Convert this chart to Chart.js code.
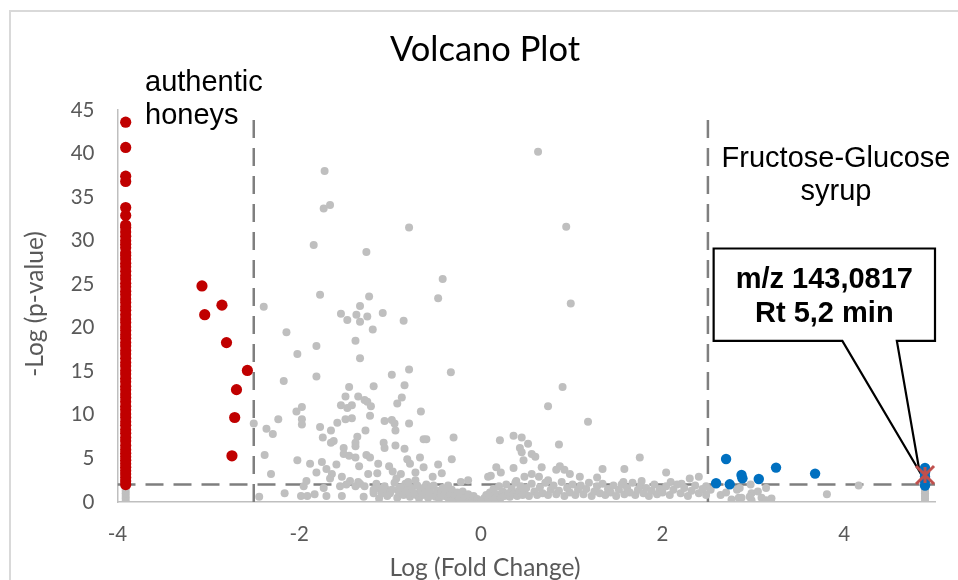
<!DOCTYPE html>
<html><head><meta charset="utf-8">
<script src="https://cdn.jsdelivr.net/npm/chart.js@4.4.0/dist/chart.umd.min.js"></script>
<style>
html,body{margin:0;padding:0;background:#fff;overflow:hidden}
#wrap{position:relative;width:958px;height:580px;overflow:hidden}
#frame{position:absolute;left:9px;top:10px;width:1200px;height:1200px;border-left:2px solid #d9d9d9;border-top:2px solid #d9d9d9}
canvas{position:absolute;left:0;top:0}
</style></head><body>
<div id="wrap"><div id="frame"></div><canvas id="c" width="958" height="580"></canvas></div>
<script>
// ---- tick values / labels ----
const xTicks = [-4, -2, 0, 2, 4];
const xTickLabels = ['-4', '-2', '0', '2', '4'];
const yTicks = [0, 5, 10, 15, 20, 25, 30, 35, 40, 45];
const yTickLabels = ['0', '5', '10', '15', '20', '25', '30', '35', '40', '45'];

// ---- thresholds ----
const foldThresholds = [-2.5, 2.5];
const pThreshold = 2;

// ---- authentic honeys (red) ----
const redColumnX = -3.91;
const redColumnY = [2.0,2.4,2.8,3.2,3.6,4.0,4.4,4.8,5.2,5.6,6.0,6.5,7.0,7.4,7.9,8.3,8.8,9.2,9.7,10.1,10.6,11.0,11.5,12.0,12.4,12.9,13.3,13.8,14.2,14.7,15.1,15.6,16.0,16.5,17.0,17.4,17.9,18.3,18.8,19.2,19.7,20.1,20.6,21.0,21.5,22.0,22.4,22.9,23.3,23.8,24.2,24.7,25.1,25.6,26.0,26.5,27.0,27.4,27.9,28.3,28.6,29.2,29.6,30.0,30.5,31.0,31.5,31.8,32.9,33.8,36.8,37.4,40.7,43.6];
const redScatter = [[-3.07,24.8],[-2.85,22.6],[-3.04,21.5],[-2.80,18.3],[-2.57,15.1],[-2.69,12.9],[-2.71,9.7],[-2.74,5.3]];

// ---- fructose-glucose syrup (blue) ----
const blueColumnX = 4.89;
const blueColumnY = [1.9,2.4,2.9,3.4,3.9];
const blueScatter = [[2.70,4.94],[2.59,2.15],[2.74,2.03],[2.87,3.1],[2.88,2.72],[3.06,2.64],[3.25,3.95],[3.68,3.26]];

// ---- highlighted feature ----
const markerPoint = [4.89, 3.1];

// ---- non-significant / other features (gray) ----
const grayColumnLeftY = [0.1,0.4,0.7,1.0,1.3,1.6];
const grayColumnRightY = [0.1,0.4,0.7,1.0,1.3,1.6];
const grayLeft = [[-1.72,38.0],[-1.73,33.7],[-1.66,34.1],[-0.79,31.5],[-1.84,29.5],[-1.26,28.7],[-0.42,25.6],[-0.47,23.4],[-1.77,23.8],[-1.23,23.6],[-2.39,22.4],[-1.33,22.5],[-1.54,21.6],[-1.37,21.5],[-1.25,21.3],[-1.08,21.7],[-1.47,20.9],[-1.33,20.7],[-0.85,20.8],[-1.19,19.8],[-2.14,19.5],
[-1.38,18.5],[-1.81,17.9],[-2.02,17.0],[-1.33,16.5],[-0.79,15.2],[-0.33,14.9],[-0.98,14.6],[-1.81,14.4],[-2.17,13.9],[-0.84,13.4],[-1.18,13.3],[-1.45,13.2],[-1.35,12.1],[-0.87,12.0],[-1.28,11.7],[-1.49,12.1],[-1.25,11.5],[-0.92,11.3],[-1.21,11.0],[-1.54,11.1],[-1.47,10.8],[-1.42,11.1],[-1.97,10.9],[-2.03,10.4],[-0.66,10.4],[-1.22,9.9],[-1.97,9.5],[-2.23,9.5],[-1.97,8.9],[-2.50,9.0],[-1.49,9.5],[-1.42,9.6],[-1.06,9.3],[-0.98,9.4],[-0.95,9.0],[-0.79,9.0],[-1.58,9.1],[-1.77,8.6],[-2.36,8.4],[-2.29,7.8],[-1.65,8.2],[-1.27,8.2],[-0.94,8.2],[-1.74,7.4],[-1.36,7.5],[-1.62,7.0],[-1.65,6.8],[-1.38,6.8],[-0.63,7.2],[-0.60,7.2],[-0.30,7.4],[-1.07,6.8],[-1.06,6.2],[-0.94,6.5],[-0.84,6.1],[-1.51,6.2],[-1.38,6.4],[-2.38,5.4],[-1.51,5.5],[-1.45,5.3],[-1.38,5.1],[-1.26,5.4],[-1.22,5.1],[-2.02,4.8],[-1.88,4.4],[-1.75,4.6],[-1.59,4.3],[-1.13,4.4],[-0.81,4.9],[-0.67,5.1],[-0.32,4.9],[-0.47,4.3],[-1.01,4.1],[-1.34,4.1],[-0.78,4.4],[-0.63,4.0],[-1.70,3.8],[-2.31,3.2],[-1.81,3.4],[-1.64,3.2],[-1.53,2.9],[-1.24,3.2],[-1.14,3.3],[-0.97,3.5],[-0.88,3.2],[-0.72,3.4],[-0.53,2.9],[-0.43,3.3],[-1.66,2.7],[-1.92,2.4],[-1.44,2.4],[-1.35,2.3],[-0.93,2.7],[-0.72,2.5],[-0.22,2.3],[-0.14,2.5],[0.08,2.9],[-0.36,1.9],[-1.95,1.8],[-1.73,1.6],[-1.55,1.8],[-1.48,2.0],[-1.38,1.8],[-1.15,2.1],[-1.06,1.8],[-0.83,2.1],[-0.60,2.0],[-2.44,0.6],[-2.16,1.0],[-1.98,0.7],[-1.91,0.7],[-1.83,0.9],[-1.70,0.7],[-1.53,0.7],[-1.29,0.6],[-1.18,1.0],[-1.00,1.0],[-0.85,1.0],[-0.71,0.8],
[-1.33,2.1],[-1.28,1.8],[-1.18,1.4],[-1.13,1.6],[-1.09,1.0],[-1.04,1.4],[-1.00,1.2],[-0.91,1.4],[-0.78,1.6],[-0.74,1.0],[-0.67,1.2]];
const grayRight = [[0.63,40.2],[0.94,31.6],[0.99,22.8],[0.90,13.2],[0.74,11.0],[1.18,9.2],[0.21,7.1],[0.36,7.6],[0.45,7.4],[0.52,6.7],[0.86,6.6],[0.43,6.2],[0.45,5.7],[0.56,5.5],[0.60,5.2],[0.47,4.8],[0.17,4.0],[0.36,3.9],[0.67,4.0],[0.87,4.1],[0.22,3.4],[0.11,3.0],[0.48,2.9],[0.56,3.2],[0.64,2.9],[0.83,3.7],[0.92,3.7],[0.98,3.2],[1.34,3.8],[1.28,2.8],[1.75,5.1],[1.58,3.8],[2.04,3.4],[2.09,2.3],[2.21,2.1],[2.30,2.7],[2.40,2.9],[2.48,1.8],[0.39,2.4],[0.74,2.5],[1.09,2.9],[1.57,2.3],[1.77,2.4],
[3.81,0.9],[4.16,1.9],[2.97,2.0],[3.14,1.6],[2.82,1.4],[2.84,0.5],[2.87,0.5],[2.98,1.0],[2.98,0.2],[3.09,0.5],[3.14,0.2],[2.53,1.4],[2.64,0.8],[2.70,1.1],[2.76,0.3],[3.05,1.2],[3.20,0.4],[2.85,1.6],[2.96,0.6]];
const grayBand = [[-1.18,1.2],[-1.12,0.4],[-1.08,1.5],[-1.03,0.7],[-0.98,1.4],[-0.95,2.2],[-0.92,0.5],[-0.90,1.1],
[-0.88,1.7],[-0.85,0.8],[-0.82,1.3],[-0.80,2.3],[-0.78,0.6],[-0.76,1.6],[-0.73,1.0],[-0.70,1.9],[-0.68,0.4],[-0.66,1.3],[-0.64,0.8],[-0.62,1.7],
[-0.60,1.1],[-0.58,0.5],[-0.56,1.5],[-0.54,0.9],[-0.52,1.9],[-0.50,0.6],[-0.48,1.3],[-0.46,0.4],[-0.44,1.0],[-0.42,1.6],[-0.40,0.7],[-0.38,1.2],[-0.36,0.5],[-0.34,0.9],[-0.32,1.4],[-0.30,0.3],
[-0.28,0.8],[-0.26,1.1],[-0.24,0.4],[-0.22,0.7],[-0.20,1.2],[-0.18,0.3],[-0.16,0.6],[-0.14,0.9],[-0.12,0.2],[-0.10,0.5],[-0.08,0.7],[-0.06,0.15],[-0.04,0.35],[-0.02,0.1],[0.00,0.05],
[0.02,0.2],[0.04,0.45],[0.06,0.8],[0.08,0.3],[0.10,1.1],[0.12,0.6],[0.14,1.5],[0.16,0.4],[0.18,0.9],[0.20,1.8],[0.22,0.5],[0.24,1.2],[0.26,0.7],[0.28,2.0],[0.30,1.0],[0.32,0.6],[0.34,1.5],[0.36,0.9],[0.38,2.2],[0.40,0.7],[0.42,1.3],[0.44,1.8],[0.46,0.8],[0.48,1.1],
[0.50,1.6],[0.53,0.7],[0.56,2.1],[0.59,1.2],[0.62,0.8],[0.65,1.7],[0.68,1.0],[0.71,2.2],[0.74,0.8],[0.77,1.4],[0.80,1.9],[0.83,0.9],[0.86,1.3],[0.89,2.3],[0.92,0.7],[0.95,1.6],[0.98,1.1],
[1.01,2.0],[1.04,0.8],[1.07,1.4],[1.10,1.9],[1.13,0.9],[1.16,1.5],[1.19,2.2],[1.22,0.7],[1.25,1.2],[1.28,1.8],[1.31,1.0],[1.34,2.1],[1.37,0.8],[1.40,1.5],[1.43,1.1],[1.46,1.9],[1.49,0.7],
[1.52,1.4],[1.55,2.0],[1.58,0.9],[1.61,1.6],[1.64,1.1],[1.67,2.2],[1.70,0.8],[1.73,1.4],[1.76,1.9],[1.79,1.0],[1.82,1.6],[1.85,0.7],[1.88,1.3],[1.91,2.0],[1.94,0.9],[1.97,1.5],
[2.00,1.1],[2.04,1.8],[2.08,0.8],[2.12,1.4],[2.16,2.0],[2.20,1.0],[2.24,1.6],[2.28,0.7],[2.32,1.3],[2.36,1.9],[2.40,1.0],[2.44,1.5],[2.48,0.8]];

// ---- texts ----
const titleText = 'Volcano Plot';
const xTitle = 'Log (Fold Change)';
const yTitle = '-Log (p-value)';
const leftLabel = ['authentic', 'honeys'];
const rightLabel = ['Fructose-Glucose', 'syrup'];
const calloutLines = ['m/z 143,0817', 'Rt 5,2 min'];

// ---- build datasets ----
const pts = a => a.map(p => ({x: p[0], y: p[1]}));
const col = (x, ys) => ys.map(y => ({x, y}));

function makeStar(){
  const c = document.createElement('canvas');
  c.width = 24; c.height = 24;
  const g = c.getContext('2d');
  g.strokeStyle = '#c0504d'; g.lineWidth = 3; g.lineCap = 'butt';
  g.beginPath();
  g.moveTo(3,3); g.lineTo(21,21);
  g.moveTo(21,3); g.lineTo(3,21);
  g.moveTo(12,4); g.lineTo(12,20);
  g.stroke();
  return c;
}

const lineStyle = {showLine: true, borderColor: '#7f7f7f', borderWidth: 2.5, borderDash: [18, 10], pointRadius: 0, fill: false, order: 5};
const datasets = [
  {label: 'marker', data: [{x: markerPoint[0], y: markerPoint[1]}], pointStyle: makeStar(), pointRadius: 10, order: 0},
  {label: 'syrup', data: pts(blueScatter).concat(col(blueColumnX, blueColumnY)), backgroundColor: '#0070c0', borderWidth: 0, pointRadius: 5.2, order: 1},
  {label: 'honey', data: pts(redScatter).concat(col(redColumnX, redColumnY)), backgroundColor: '#c00000', borderWidth: 0, pointRadius: 5.6, order: 2},
  {label: 'other', data: pts(grayLeft).concat(pts(grayRight), pts(grayBand), col(redColumnX, grayColumnLeftY), col(blueColumnX, grayColumnRightY)), backgroundColor: '#bfbfbf', borderWidth: 0, pointRadius: 4, order: 3},
  Object.assign({label: 'tl', data: [{x: foldThresholds[0], y: 0}, {x: foldThresholds[0], y: 44.1}]}, lineStyle),
  Object.assign({label: 'tr', data: [{x: foldThresholds[1], y: 0}, {x: foldThresholds[1], y: 44.1}]}, lineStyle),
  Object.assign({label: 'tp', data: [{x: -4, y: pThreshold}, {x: 5, y: pThreshold}]}, lineStyle)
];

// callout geometry in data units
const calloutBox = {x0: 2.563, x1: 5.0, yTop: 29.1, yBot: 18.5, baseA: 3.98, baseB: 4.58, tipX: 4.83, tipY: 3.5};

const overlay = {
  id: 'overlay',
  beforeDatasetsDraw(chart){
    const ctx = chart.ctx, xs = chart.scales.x, ys = chart.scales.y;
    const L = xs.getPixelForValue(calloutBox.x0), R = xs.getPixelForValue(calloutBox.x1);
    const T = ys.getPixelForValue(calloutBox.yTop), B = ys.getPixelForValue(calloutBox.yBot);
    const a = xs.getPixelForValue(calloutBox.baseA), b = xs.getPixelForValue(calloutBox.baseB);
    const tx = xs.getPixelForValue(calloutBox.tipX), ty = ys.getPixelForValue(calloutBox.tipY);
    ctx.save();
    ctx.beginPath();
    ctx.moveTo(L, T); ctx.lineTo(R, T); ctx.lineTo(R, B); ctx.lineTo(b, B);
    ctx.lineTo(tx, ty); ctx.lineTo(a, B); ctx.lineTo(L, B); ctx.closePath();
    ctx.fillStyle = '#fff'; ctx.fill();
    ctx.lineWidth = 2.2; ctx.strokeStyle = '#000'; ctx.lineJoin = 'miter'; ctx.stroke();
    ctx.fillStyle = '#000'; ctx.textAlign = 'center'; ctx.textBaseline = 'alphabetic';
    ctx.font = 'bold 29px "Liberation Sans", Arial, sans-serif';
    const cx = (L + R) / 2;
    ctx.fillText(calloutLines[0], cx, T + 39.5);
    ctx.fillText(calloutLines[1], cx, T + 73);
    ctx.restore();
  },
  afterDraw(chart){
    const ctx = chart.ctx;
    ctx.save();
    ctx.fillStyle = '#000'; ctx.textBaseline = 'alphabetic';
    ctx.font = '34.5px Lato, sans-serif'; ctx.textAlign = 'center';
    ctx.fillText(titleText, 485, 61);
    ctx.font = '29px "Liberation Sans", Arial, sans-serif';
    ctx.textAlign = 'left';
    ctx.fillText(leftLabel[0], 145, 90.7);
    ctx.fillText(leftLabel[1], 145, 124);
    ctx.textAlign = 'center';
    ctx.fillText(rightLabel[0], 836, 166.7);
    ctx.fillText(rightLabel[1], 836, 200);
    ctx.fillStyle = '#595959';
    ctx.font = '24.5px Lato, sans-serif';
    ctx.fillText(xTitle, 485, 576);
    ctx.translate(43, 304); ctx.rotate(-Math.PI / 2);
    ctx.fillText(yTitle, 0, 0);
    ctx.restore();
  }
};

new Chart(document.getElementById('c'), {
  type: 'scatter',
  data: {datasets},
  options: {
    responsive: false, animation: false,
    layout: {padding: {top: 110, right: 23, bottom: 0, left: 0}},
    plugins: {legend: {display: false}, tooltip: {enabled: false}, title: {display: false}},
    scales: {
      x: {
        type: 'linear', min: -4, max: 5,
        afterFit: s => { s.height = 78; },
        afterBuildTicks: s => { s.ticks = xTicks.map(v => ({value: v})); },
        grid: {display: false, drawTicks: false},
        border: {display: true, color: '#bfbfbf', width: 1.5},
        ticks: {padding: 20, color: '#595959', font: {family: 'Lato', size: 20.5}, maxRotation: 0,
          callback: (v, i) => xTickLabels[i]}
      },
      y: {
        type: 'linear', min: 0, max: 45,
        afterFit: s => { s.width = 117.5; },
        afterBuildTicks: s => { s.ticks = yTicks.map(v => ({value: v})); },
        grid: {display: false, drawTicks: false},
        border: {display: true, color: '#bfbfbf', width: 1.5},
        ticks: {padding: 23, color: '#595959', font: {family: 'Lato', size: 20.5},
          callback: (v, i) => yTickLabels[i]}
      }
    }
  },
  plugins: [overlay]
});
</script>
</body></html>
